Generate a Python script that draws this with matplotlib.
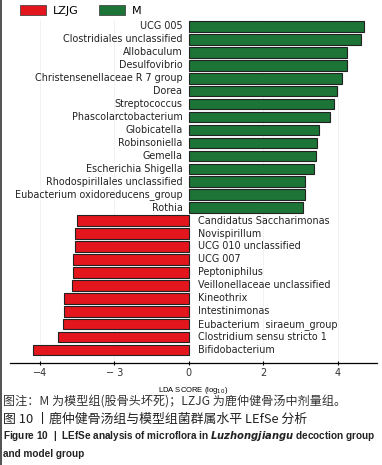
import matplotlib.pyplot as plt
from matplotlib.patches import Patch
from matplotlib.lines import Line2D

# LEfSe results (genus level)
m_taxa = ['UCG 005', 'Clostridiales unclassified', 'Allobaculum', 'Desulfovibrio',
          'Christensenellaceae R 7 group', 'Dorea', 'Streptococcus',
          'Phascolarctobacterium', 'Globicatella', 'Robinsoniella', 'Gemella',
          'Escherichia Shigella', 'Rhodospirillales unclassified',
          'Eubacterium oxidoreducens_group', 'Rothia']
m_lda = [4.70, 4.61, 4.25, 4.25, 4.12, 3.98, 3.89, 3.79, 3.49, 3.45, 3.40, 3.36,
         3.13, 3.11, 3.06]

lzjg_taxa = ['Candidatus Saccharimonas', 'Novispirillum', 'UCG 010 unclassified',
             'UCG 007', 'Peptoniphilus', 'Veillonellaceae unclassified', 'Kineothrix',
             'Intestinimonas', 'Eubacterium  siraeum_group', 'Clostridium sensu stricto 1',
             'Bifidobacterium']
lzjg_lda = [-3.00, -3.05, -3.06, -3.11, -3.11, -3.14, -3.36, -3.36, -3.38, -3.51, -4.17]

tick_pos = [-4, -2, 0, 2, 4]
tick_labels = ['\u22124', '\u2212 3', '0', '2', '4']

red = '#e3161e'
green = '#1c7436'

fig = plt.figure(figsize=(3.82, 4.65), dpi=100)
ax = fig.add_axes([0.026, 0.2194, 0.961, 0.7376])

y_m = list(range(len(m_taxa)))
y_l = list(range(len(m_taxa), len(m_taxa) + len(lzjg_taxa)))

ax.barh(y_m, m_lda, height=0.82, color=green, edgecolor='#222222', linewidth=0.8, zorder=2)
ax.barh(y_l, lzjg_lda, height=0.82, color=red, edgecolor='#222222', linewidth=0.8, zorder=2)

for y, name in zip(y_m, m_taxa):
    ax.text(-0.17, y, name, ha='right', va='center', fontsize=6.95, color='#222222')
for y, name in zip(y_l, lzjg_taxa):
    ax.text(0.24, y, name, ha='left', va='center', fontsize=6.9, color='#222222')

ax.set_xlim(-4.8, 5.05)
ax.set_ylim(26.0, -0.5)
ax.set_yticks([])
ax.set_xticks(tick_pos)
ax.set_xticklabels(tick_labels, fontsize=7, color='#333333')
ax.tick_params(axis='x', length=3, width=0.8, direction='inout', pad=2)
for s in ['top', 'right', 'left']:
    ax.spines[s].set_visible(False)
ax.spines['bottom'].set_linewidth(0.9)
ax.grid(axis='x', color='#f0f0f0', linewidth=0.6, zorder=0)
ax.set_axisbelow(True)
ax.set_xlabel('LDA SCORE (log$_{10}$)', fontsize=5.5, labelpad=5,
              family=['Liberation Sans', 'DejaVu Sans'])

handles = [Patch(facecolor=red, edgecolor='#333333', linewidth=0.5),
           Patch(facecolor=green, edgecolor='#333333', linewidth=0.5)]
fig.legend(handles, ['LZJG', 'M'], loc='upper left', bbox_to_anchor=(0.025, 1.01),
           ncol=2, frameon=False, fontsize=8, handlelength=2.4, handleheight=0.9,
           columnspacing=1.8, handletextpad=0.6)

fig.add_artist(Line2D([0.003, 0.003], [0, 1], color='#333333', linewidth=1.2))

cjk = ['Noto Sans CJK SC', 'DejaVu Sans']
fig.text(0.008, 1 - 402 / 465, '图注：M 为模型组(股骨头坏死)；LZJG 为鹿仲健骨汤中剂量组。',
         fontsize=8.7, family=cjk, va='center', color='#333333')
fig.text(0.008, 1 - 419 / 465, '图 10 丨鹿仲健骨汤组与模型组菌群属水平 LEfSe 分析',
         fontsize=9.3, family=cjk, va='center', color='#222222')
fig.text(0.008, 1 - 436 / 465,
         'Figure 10  |  LEfSe analysis of microflora in $\\mathbfit{Luzhongjiangu}$ decoction group',
         fontsize=7.2, fontweight='bold', va='center', color='#222222',
         family=['Liberation Sans', 'DejaVu Sans'])
fig.text(0.008, 1 - 454 / 465, 'and model group', fontsize=7.2, fontweight='bold',
         va='center', color='#222222', family=['Liberation Sans', 'DejaVu Sans'])

fig.savefig('out.png', dpi=100)
